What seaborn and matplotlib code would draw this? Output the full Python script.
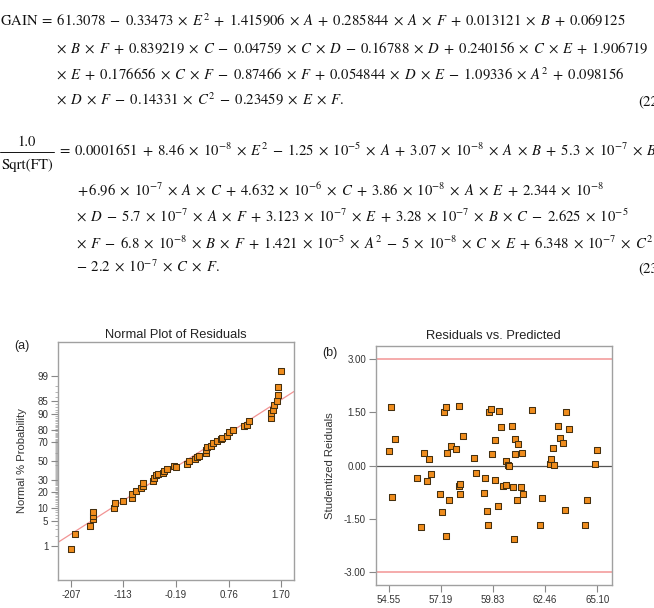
import math
from statistics import NormalDist
import numpy as np
import pandas as pd
import matplotlib
matplotlib.use("Agg")
import matplotlib.pyplot as plt
from matplotlib.lines import Line2D
import seaborn as sns

# ---------------- data ----------------
# (a) normal probability plot of studentized residuals
normal_resid = [-2.070, -2.004, -1.729, -1.681, -1.681, -1.675, -1.292, -1.274, -1.142,
                -0.981, -0.969, -0.897, -0.807, -0.783, -0.771, -0.592, -0.574, -0.550,
                -0.514, -0.424, -0.400, -0.341, -0.215, -0.191, 0.019, 0.054, 0.156,
                0.198, 0.234, 0.348, 0.348, 0.366, 0.443, 0.473, 0.557, 0.617, 0.641,
                0.731, 0.761, 0.838, 1.036, 1.090, 1.132, 1.521, 1.521, 1.551, 1.575,
                1.617, 1.641, 1.641, 1.700]
normal_prob = [0.78, 2.25, 3.8, 5.5, 6.5, 7.9, 9.7, 12.3, 13.8, 15.7, 18.4, 20.5, 22.9,
               24.9, 27.0, 29.0, 32.3, 34.7, 35.6, 37.4, 38.9, 40.9, 44.5, 43.1, 46.4,
               49.3, 52.5, 54.4, 55.8, 58.3, 61.5, 64.3, 66.0, 68.4, 70.9, 72.6, 73.6,
               75.4, 78.5, 80.5, 82.7, 83.9, 86.2, 87.9, 90.5, 91.9, 93.6, 94.9, 96.4,
               97.8, 99.3]
fit_x = [-2.30, 1.93]
fit_prob = [1.27, 97.15]

# (b) residuals vs predicted
predicted = [54.68, 54.55, 54.87, 54.70, 55.99, 56.17, 56.34, 56.51, 56.57, 56.71,
             57.15, 57.25, 57.33, 57.43, 57.45, 57.52, 57.62, 57.68, 57.94, 58.09,
             58.12, 58.13, 58.17, 58.29, 58.85, 58.97, 59.39, 59.42, 59.50, 59.59,
             59.61, 59.71, 59.76, 59.93, 59.94, 60.06, 60.13, 60.25, 60.35, 60.47,
             60.50, 60.60, 60.63, 60.80, 60.84, 60.87, 60.94, 60.94, 61.04, 61.11,
             61.26, 61.31, 61.36, 61.78, 62.22, 62.32, 62.71, 62.77, 62.86, 62.89,
             63.09, 63.21, 63.36, 63.48, 63.53, 63.67, 64.49, 64.59, 64.98, 65.10]
stud_resid = [1.64, 0.41, 0.75, -0.90, -0.35, -1.74, 0.36, -0.43, 0.18, -0.23,
              -0.81, -1.30, 1.52, 1.64, -2.00, 0.35, -0.98, 0.55, 0.47, -0.57,
              1.68, -0.80, -0.53, 0.83, 0.22, -0.22, -0.79, -0.35, -1.29, -1.69,
              1.52, 1.61, 0.33, -0.41, 0.72, -1.14, 1.54, 1.09, -0.57, -0.56,
              0.14, 0.01, 0.00, 1.12, -0.62, -2.07, 0.76, 0.33, -0.98, 0.60,
              -0.60, 0.34, -0.80, 1.57, -1.68, -0.93, 0.05, 0.17, 0.49, 0.01,
              1.13, 0.77, 0.63, -1.27, 1.52, 1.02, -1.68, -0.97, 0.05, 0.45]
control_limits = [3.0, -3.0]

a_xticks = [-2.07, -1.13, -0.19, 0.76, 1.70]
a_xticklabels = ['-207', '-113', '-0.19', '0.76', '1.70']
a_yticks = [1, 5, 10, 20, 30, 50, 70, 80, 90, 95, 99]
a_yticklabels = ['1', '5', '10', '20', '30', '50', '70', '80', '90', '85', '99']
b_xticks = [54.55, 57.19, 59.83, 62.46, 65.10]
b_yticks = [-3.0, -1.5, 0.0, 1.5, 3.0]

eq22_lines = [
    r"\mathrm{GAIN} = 61.3078 - 0.33473 \times E^2 + 1.415906 \times A + 0.285844 \times A \times F + 0.013121 \times B + 0.069125",
    r"\times B \times F + 0.839219 \times C - 0.04759 \times C \times D - 0.16788 \times D + 0.240156 \times C \times E + 1.906719",
    r"\times E + 0.176656 \times C \times F - 0.87466 \times F + 0.054844 \times D \times E - 1.09336 \times A^2 + 0.098156",
    r"\times D \times F - 0.14331 \times C^2 - 0.23459 \times E \times F.",
]
eq23_lines = [
    r"= 0.0001651 + 8.46 \times 10^{-8} \times E^2 - 1.25 \times 10^{-5} \times A + 3.07 \times 10^{-8} \times A \times B + 5.3 \times 10^{-7} \times B",
    r"+ 6.96 \times 10^{-7} \times A \times C + 4.632 \times 10^{-6} \times C + 3.86 \times 10^{-8} \times A \times E + 2.344 \times 10^{-8}",
    r"\times D - 5.7 \times 10^{-7} \times A \times F + 3.123 \times 10^{-7} \times E + 3.28 \times 10^{-7} \times B \times C - 2.625 \times 10^{-5}",
    r"\times F - 6.8 \times 10^{-8} \times B \times F + 1.421 \times 10^{-5} \times A^2 - 5 \times 10^{-8} \times C \times E + 6.348 \times 10^{-7} \times C^2",
    r"- 2.2 \times 10^{-7} \times C \times F.",
]

LEAD = {r'\times': 0.5, '+': 0.15, '-': 0.45, '=': 0.3}


def widen(s, sp=0.27):
    """Give operators the wider spacing of the typeset original."""
    h = r'\hspace{%.2f}' % sp
    for op in [r'\times', '+', '-', '=']:
        if s.startswith(op + ' '):
            s = op + r'\hspace{%.2f}' % LEAD[op] + s[len(op) + 1:]
        s = s.replace(' ' + op + ' ', h + op + h)
    return '$' + s + '$'


# ---------------- style ----------------
sns.set_theme(style="ticks")
plt.rcParams['font.family'] = ['Liberation Sans', 'DejaVu Sans']
plt.rcParams['mathtext.fontset'] = 'stix'

W, H = 654, 608
fig = plt.figure(figsize=(W / 100, H / 100), dpi=100)
fig.patch.set_facecolor('white')


def fx(px):
    return px / W


def fy(py):
    return 1 - py / H


EQ_FS = 10.6
TXT = '#111111'
# equation (22)
eq22_x = [0, 56, 56, 56]
eq22_y = [26, 53, 80, 105]
for s, x, y in zip(eq22_lines, eq22_x, eq22_y):
    fig.text(fx(x), fy(y), widen(s, sp=0.27), fontsize=EQ_FS, color=TXT,
             va='baseline', ha='left')
fig.text(fx(638), fy(105), '(22)', fontsize=EQ_FS, color=TXT, va='baseline', ha='left',
         family='STIXGeneral')

# equation (23)
fig.text(fx(27), fy(146), '1.0', fontsize=EQ_FS, color=TXT, va='baseline', ha='center',
         family='STIXGeneral')
fig.text(fx(27), fy(169), 'Sqrt(FT)', fontsize=EQ_FS, color=TXT, va='baseline', ha='center',
         family='STIXGeneral')
fig.add_artist(Line2D([fx(0), fx(54)], [fy(151.5), fy(151.5)], color=TXT, lw=0.7))
eq23_x = [57, 77, 76, 76, 76]
eq23_y = [156, 196, 222, 249, 272]
for s, x, y in zip(eq23_lines, eq23_x, eq23_y):
    fig.text(fx(x), fy(y), widen(s, sp=0.28), fontsize=EQ_FS, color=TXT,
             va='baseline', ha='left')
fig.text(fx(638), fy(272), '(23)', fontsize=EQ_FS, color=TXT, va='baseline', ha='left',
         family='STIXGeneral')

# ---------------- panels ----------------
ORANGE = '#ef8c1d'
EDGE = '#45300f'
RED = '#f29494'
SPINE = '#a0a0a0'
LAB = '#333333'

ax_a = fig.add_axes([fx(58), fy(580), (294 - 58) / W, (580 - 341.7) / H])
ax_b = fig.add_axes([fx(375.7), fy(585), (611.7 - 375.7) / W, (585 - 346) / H])

_nd = NormalDist()
_ppf = np.vectorize(lambda p: _nd.inv_cdf(min(max(p / 100.0, 1e-9), 1 - 1e-9)), otypes=[float])
_cdf = np.vectorize(lambda z: 50.0 * (1.0 + math.erf(z / math.sqrt(2.0))), otypes=[float])

df_a = pd.DataFrame({'resid': normal_resid, 'prob': normal_prob})
df_fit = pd.DataFrame({'x': fit_x, 'p': fit_prob})
df_b = pd.DataFrame({'pred': predicted, 'resid': stud_resid})

sns.lineplot(data=df_fit, x='x', y='p', ax=ax_a, color=RED, lw=0.9, zorder=2)
sns.scatterplot(data=df_a, x='resid', y='prob', ax=ax_a, marker='s', s=20,
                color=ORANGE, edgecolor=EDGE, linewidth=0.75, zorder=3)
ax_a.set_yscale('function', functions=(_ppf, _cdf))
ax_a.set_xlim(-2.30, 1.93)
ax_a.set_ylim(0.054, 99.946)
ax_a.set_xticks(a_xticks, a_xticklabels)
ax_a.set_yticks(a_yticks, a_yticklabels)
ax_a.set_yticks([p for p in range(1, 100) if p not in a_yticks], minor=True)
ax_a.yaxis.set_minor_formatter(matplotlib.ticker.NullFormatter())

for lim in control_limits:
    ax_b.axhline(lim, color=RED, lw=1.1, zorder=1)
ax_b.axhline(0, color='#555555', lw=0.9, zorder=1)
sns.scatterplot(data=df_b, x='pred', y='resid', ax=ax_b, marker='s', s=20,
                color=ORANGE, edgecolor=EDGE, linewidth=0.75, zorder=3)
ax_b.set_xlim(53.89, 65.83)
ax_b.set_ylim(-3.376, 3.376)
ax_b.set_xticks(b_xticks, [f'{v:.2f}' for v in b_xticks])
ax_b.set_yticks(b_yticks, [f'{v:.2f}' for v in b_yticks])

for ax in (ax_a, ax_b):
    for sp in ax.spines.values():
        sp.set_visible(True)
        sp.set_color(SPINE)
        sp.set_linewidth(1.0)
    ax.tick_params(axis='both', which='major', direction='out', length=5, width=0.8,
                   color='#888888', labelsize=7, labelcolor=LAB, pad=2)
    ax.tick_params(axis='y', which='minor', direction='out', length=2.5, width=0.5,
                   color='#999999')
    ax.set_facecolor('white')

ax_a.set_title('Normal Plot of Residuals', fontsize=9.3, color='#222222', pad=3)
ax_b.set_title('Residuals vs. Predicted', fontsize=9.3, color='#222222', pad=5)
ax_a.set_ylabel('Normal % Probability', fontsize=8.1, color=LAB)
ax_b.set_ylabel('Studentized Reiduals', fontsize=8.1, color=LAB)
ax_a.set_xlabel('Studentized Residuals', fontsize=8.1, color=LAB)
ax_b.set_xlabel('Predicted', fontsize=8.1, color=LAB)
ax_a.yaxis.set_label_coords((27 - 58) / 236, 0.5)
ax_b.yaxis.set_label_coords((335 - 375.7) / 236, 0.5)
ax_a.xaxis.set_label_coords(0.5, (580 - 609) / 238.3)
ax_b.xaxis.set_label_coords(0.5, (585 - 610) / 239)

fig.text(fx(14), fy(349), '(a)', fontsize=9, color='#222222', va='baseline', ha='left')
fig.text(fx(322), fy(356), '(b)', fontsize=9, color='#222222', va='baseline', ha='left')

fig.savefig('out.png', dpi=100, facecolor='white')
